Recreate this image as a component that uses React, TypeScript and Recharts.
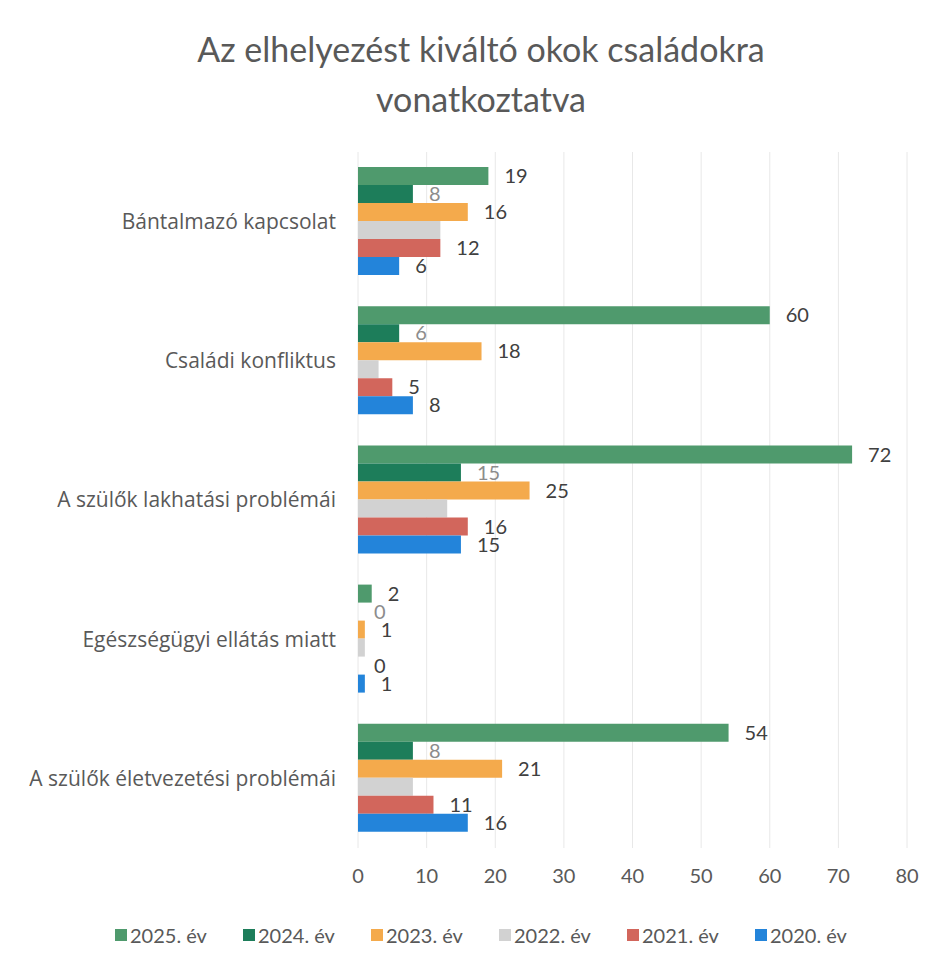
import React from "react";
import {
  BarChart,
  Bar,
  XAxis,
  YAxis,
  CartesianGrid,
  Legend,
  LabelList,
} from "recharts";

const categories = [
  "Bántalmazó kapcsolat",
  "Családi konfliktus",
  "A szülők lakhatási problémái",
  "Egészségügyi ellátás miatt",
  "A szülők életvezetési problémái",
];

const y2025 = [19, 60, 72, 2, 54];
const y2024 = [8, 6, 15, 0, 8];
const y2023 = [16, 18, 25, 1, 21];
const y2022 = [12, 3, 13, 1, 8];
const y2021 = [12, 5, 16, 0, 11];
const y2020 = [6, 8, 15, 1, 16];

const seriesNames = ["2025. év", "2024. év", "2023. év", "2022. év", "2021. év", "2020. év"];
const xTicks = [0, 10, 20, 30, 40, 50, 60, 70, 80];

const colors = ["#4f9a6d", "#1d7d5a", "#f4aa4c", "#d2d2d2", "#d2665c", "#2384da"];
// 2024 labels are grey in the source, 2022 has none
const labelColors = ["#404040", "#8c8c8c", "#404040", null, "#404040", "#404040"];

const series = [y2025, y2024, y2023, y2022, y2021, y2020];

const data = categories.map((name, i) => {
  const row: Record<string, string | number> = { name };
  series.forEach((s, k) => {
    row["s" + k] = s[i];
  });
  return row;
});

const FONT = "Lato, 'Open Sans', sans-serif";
const CAT_FONT = "'Open Sans', Lato, sans-serif";

function LegendContent() {
  return (
    <div
      style={{
        display: "flex",
        alignItems: "center",
        height: 26,
        paddingLeft: 115,
        fontFamily: FONT,
        fontSize: 20,
        color: "#595959",
      }}
    >
      {seriesNames.map((n, k) => (
        <div key={n} style={{ display: "flex", alignItems: "center", width: 128, flex: "none" }}>
          <span
            style={{
              display: "inline-block",
              width: 12,
              height: 12,
              background: colors[k],
              marginRight: 3,
            }}
          />
          <span>{n}</span>
        </div>
      ))}
    </div>
  );
}

export default function App() {
  return (
    <div style={{ position: "absolute", left: 0, top: 0, width: 936, height: 966, background: "#fff" }}>
      <div
        style={{
          position: "absolute",
          top: 24,
          left: 0,
          width: 962,
          textAlign: "center",
          fontFamily: FONT,
          fontSize: 34,
          lineHeight: "50px",
          color: "#595959",
        }}
      >
        Az elhelyezést kiváltó okok családokra
        <br />
        vonatkoztatva
      </div>
      <BarChart
        width={936}
        height={966}
        data={data}
        layout="vertical"
        margin={{ top: 152, right: 29, bottom: 18, left: 0 }}
        barCategoryGap={15}
        barGap={0}
      >
        <CartesianGrid horizontal={false} stroke="#e8e8e8" />
        <XAxis
          type="number"
          domain={[0, 80]}
          ticks={xTicks}
          axisLine={false}
          tickLine={false}
          tickMargin={15}
          height={74}
          tick={{ fill: "#595959", fontSize: 20, fontFamily: FONT }}
        />
        <YAxis
          type="category"
          dataKey="name"
          width={358}
          axisLine={false}
          tickLine={false}
          tickMargin={16}
          tick={{ fill: "#595959", fontSize: 21, fontFamily: CAT_FONT }}
        />
        <Legend verticalAlign="bottom" content={<LegendContent />} />
        {seriesNames.map((n, k) => (
          <Bar
            key={n}
            dataKey={"s" + k}
            name={n}
            fill={colors[k]}
            minPointSize={(v: number) => (v === 0 ? 0.01 : 0)}
            isAnimationActive={false}
          >
            {labelColors[k] && (
              <LabelList
                dataKey={"s" + k}
                position="right"
                offset={16}
                fill={labelColors[k] as string}
                fontSize={20}
                fontFamily={FONT}
              />
            )}
          </Bar>
        ))}
      </BarChart>
    </div>
  );
}
